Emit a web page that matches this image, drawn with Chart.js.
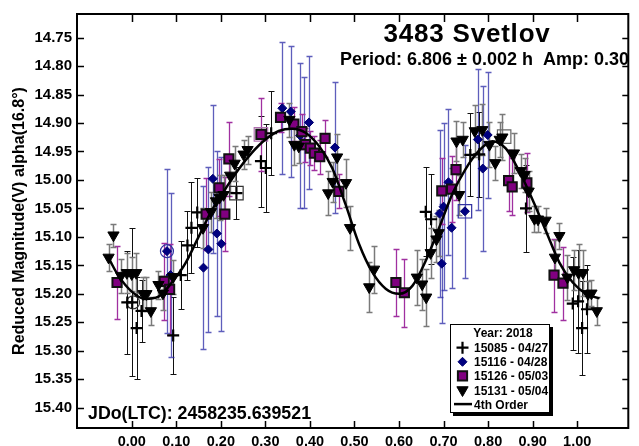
<!DOCTYPE html>
<html><head><meta charset="utf-8">
<style>html,body{margin:0;padding:0;background:#fff}#wrap{width:639px;height:446px;position:relative}</style>
<script src="https://cdn.jsdelivr.net/npm/chart.js@4.4.0/dist/chart.umd.min.js"></script>
</head><body><div id="wrap"><canvas id="c" width="639" height="446"></canvas></div>
<script>
// ---- texts ----
const titleText = '3483 Svetlov';
const periodText = 'Period: 6.806 \u00b1 0.002 h  Amp: 0.30';
const jdText = 'JDo(LTC): 2458235.639521';
const yTitle = 'Reduced Magnitude(V) alpha(16.8\u00b0)';
const yearLabel = 'Year: 2018';
const seriesNames = ['15085 - 04/27', '15116 - 04/28', '15126 - 05/03', '15131 - 05/04'];
const fitName = '4th Order';

// ---- ticks ----
const xTicks = [0.00, 0.10, 0.20, 0.30, 0.40, 0.50, 0.60, 0.70, 0.80, 0.90, 1.00];
const yTicks = [14.75, 14.80, 14.85, 14.90, 14.95, 15.00, 15.05, 15.10, 15.15, 15.20, 15.25, 15.30, 15.35, 15.40];

// ---- 15085 (crosses) ----
const s15085X = [-0.010, 0.001, 0.011, 0.022, 0.093, 0.110, 0.125, 0.134, 0.147, 0.235, 0.290, 0.301, 0.313, 0.660, 0.672, 0.760, 0.780, 0.885, 0.990, 1.002, 1.011, 1.022];
const s15085Y = [15.215, 15.215, 15.260, 15.230, 15.273, 15.167, 15.115, 15.084, 15.057, 15.023, 14.967, 14.979, 14.918, 15.056, 15.069, 14.956, 14.955, 15.050, 15.217, 15.213, 15.260, 15.227];
const s15085E = [0.090, 0.130, 0.090, 0.055, 0.068, 0.060, 0.060, 0.080, 0.060, 0.045, 0.080, 0.077, 0.074, 0.078, 0.079, 0.073, 0.075, 0.077, 0.082, 0.090, 0.082, 0.077];

// ---- 15116 (diamonds) ----
const s15116X = [0.079, 0.087, 0.161, 0.172, 0.182, 0.191, 0.201, 0.338, 0.357, 0.378, 0.387, 0.398, 0.456, 0.691, 0.696, 0.700, 0.711, 0.718, 0.748, 0.777, 0.788, 0.799];
const s15116Y = [15.125, 15.167, 15.154, 15.122, 14.998, 15.094, 15.112, 14.874, 14.880, 14.922, 14.935, 14.899, 14.943, 15.059, 15.147, 15.047, 15.004, 15.084, 15.055, 14.929, 14.980, 14.921];
const s15116E = [0.144, 0.144, 0.143, 0.145, 0.130, 0.145, 0.153, 0.116, 0.115, 0.128, 0.115, 0.117, 0.115, 0.146, 0.105, 0.147, 0.128, 0.105, 0.117, 0.124, 0.145, 0.110];

// ---- 15126 (squares) ----
const s15126X = [-0.033, 0.073, 0.085, 0.167, 0.196, 0.209, 0.218, 0.290, 0.334, 0.364, 0.382, 0.390, 0.401, 0.410, 0.422, 0.434, 0.465, 0.593, 0.612, 0.696, 0.718, 0.728, 0.846, 0.854, 0.887, 0.948, 0.968];
const s15126Y = [15.180, 15.178, 15.192, 15.060, 15.014, 15.060, 14.963, 14.920, 14.890, 14.902, 14.915, 14.938, 14.944, 14.953, 14.959, 14.927, 15.020, 15.180, 15.198, 15.019, 15.016, 14.982, 15.001, 15.012, 15.005, 15.167, 15.181];
const s15126E = [0.064, 0.068, 0.080, 0.063, 0.050, 0.065, 0.065, 0.064, 0.026, 0.030, 0.030, 0.030, 0.030, 0.030, 0.030, 0.032, 0.030, 0.058, 0.060, 0.058, 0.058, 0.054, 0.054, 0.050, 0.052, 0.064, 0.064];

// ---- 15131 (down triangles) ----
const s15131X = [-0.052, -0.041, -0.024, -0.011, 0.000, 0.010, 0.026, 0.033, 0.043, 0.060, 0.070, 0.093, 0.160, 0.178, 0.189, 0.197, 0.206, 0.221, 0.231, 0.251, 0.260, 0.354, 0.365, 0.375, 0.441, 0.451, 0.461, 0.481, 0.490, 0.533, 0.544, 0.640, 0.652, 0.661, 0.671, 0.684, 0.689, 0.729, 0.735, 0.743, 0.770, 0.787, 0.803, 0.816, 0.826, 0.832, 0.858, 0.873, 0.882, 0.891, 0.904, 0.912, 0.929, 0.950, 0.960, 0.978, 0.993, 1.003, 1.013, 1.024, 1.032, 1.044];
const s15131Y = [15.136, 15.097, 15.168, 15.163, 15.165, 15.163, 15.200, 15.200, 15.230, 15.184, 15.199, 15.170, 15.084, 15.056, 15.037, 15.031, 15.026, 14.992, 14.971, 14.955, 14.947, 14.894, 14.938, 14.941, 15.023, 15.003, 14.960, 15.005, 15.084, 15.188, 15.157, 15.171, 15.183, 15.206, 15.128, 15.104, 15.093, 14.932, 15.026, 14.929, 14.914, 14.912, 14.938, 14.970, 14.929, 14.925, 14.953, 14.984, 14.991, 15.020, 15.068, 15.069, 15.071, 15.136, 15.098, 15.171, 15.158, 15.163, 15.163, 15.200, 15.199, 15.230];
const s15131E = [0.023, 0.020, 0.030, 0.035, 0.030, 0.035, 0.030, 0.030, 0.025, 0.025, 0.030, 0.030, 0.035, 0.035, 0.030, 0.040, 0.035, 0.030, 0.030, 0.025, 0.025, 0.030, 0.035, 0.030, 0.038, 0.035, 0.040, 0.042, 0.039, 0.044, 0.041, 0.048, 0.045, 0.050, 0.044, 0.040, 0.040, 0.035, 0.035, 0.030, 0.045, 0.045, 0.040, 0.030, 0.030, 0.040, 0.035, 0.030, 0.030, 0.035, 0.023, 0.023, 0.022, 0.030, 0.023, 0.040, 0.035, 0.050, 0.040, 0.023, 0.023, 0.025];

// ---- 4th order fit ----
const fitX = [-0.05, -0.03, 0.00, 0.03, 0.06, 0.09, 0.12, 0.15, 0.18, 0.21, 0.24, 0.27, 0.30, 0.33, 0.36, 0.39, 0.42, 0.45, 0.48, 0.51, 0.54, 0.57, 0.60, 0.63, 0.66, 0.69, 0.72, 0.75, 0.78, 0.81, 0.84, 0.87, 0.90, 0.93, 0.96, 0.99, 1.02, 1.05];
const fitY = [15.140, 15.168, 15.196, 15.209, 15.205, 15.180, 15.147, 15.100, 15.053, 15.016, 14.981, 14.952, 14.929, 14.914, 14.910, 14.917, 14.940, 14.979, 15.043, 15.112, 15.162, 15.191, 15.200, 15.186, 15.142, 15.084, 15.024, 14.980, 14.948, 14.932, 14.945, 14.985, 15.035, 15.090, 15.145, 15.180, 15.200, 15.208];

// ---- highlighted points (open circles / open squares) ----
const ringX = [0.079, 0.003];
const ringY = [15.125, 15.215];
const boxX = [0.235, 0.290, 0.748, 0.836];
const boxY = [15.023, 14.920, 15.055, 14.924];

const pts = (xs, ys) => xs.map((x, i) => ({x: x, y: ys[i]}));
const FONT = "'Liberation Sans', Arial, sans-serif";

const errPlugin = {
  id: 'errbars',
  beforeDatasetsDraw(chart) {
    const ctx = chart.ctx, ys = chart.scales.y, a = chart.chartArea;
    ctx.save();
    ctx.beginPath(); ctx.rect(a.left, a.top, a.right - a.left, a.bottom - a.top); ctx.clip();
    chart.data.datasets.forEach((ds, di) => {
      if (!ds.errY) return;
      const meta = chart.getDatasetMeta(di);
      ctx.strokeStyle = ds.errColor; ctx.lineWidth = ds.errWidth;
      meta.data.forEach((pt, i) => {
        const v = ds.data[i].y, e = ds.errY[i];
        const y1 = Math.round(ys.getPixelForValue(v - e)) + 0.5, y2 = Math.round(ys.getPixelForValue(v + e)) + 0.5;
        const x = Math.round(pt.x) + 0.5;
        ctx.beginPath();
        ctx.moveTo(x, y1); ctx.lineTo(x, y2);
        ctx.moveTo(x - 3, y1); ctx.lineTo(x + 3, y1);
        ctx.moveTo(x - 3, y2); ctx.lineTo(x + 3, y2);
        ctx.stroke();
      });
    });
    ctx.restore();
  }
};

function drawMarker(ctx, ds, x, y) {
  const opts = {pointStyle: ds.pointStyle, radius: ds.pointRadius, rotation: ds.rotation || 0, borderWidth: ds.borderWidth};
  ctx.save();
  ctx.fillStyle = ds.backgroundColor; ctx.strokeStyle = ds.borderColor; ctx.lineWidth = ds.borderWidth;
  Chart.helpers.drawPoint(ctx, opts, x, y);
  ctx.restore();
}

const decoPlugin = {
  id: 'deco',
  afterDraw(chart) {
    const ctx = chart.ctx, a = chart.chartArea, xs = chart.scales.x, ys = chart.scales.y;
    ctx.save();
    // frame
    ctx.strokeStyle = '#000'; ctx.lineWidth = 2;
    ctx.strokeRect(a.left, a.top, a.right - a.left, a.bottom - a.top);
    ctx.lineWidth = 1.5;
    ctx.beginPath();
    xTicks.forEach(v => {
      const px = Math.round(xs.getPixelForValue(v)) + 0.5;
      ctx.moveTo(px, a.top); ctx.lineTo(px, a.top + 8);
      ctx.moveTo(px, a.bottom); ctx.lineTo(px, a.bottom - 7);
    });
    yTicks.forEach(v => {
      const py = Math.round(ys.getPixelForValue(v)) + 0.5;
      ctx.moveTo(a.left, py); ctx.lineTo(a.left + 7, py);
      ctx.moveTo(a.right, py); ctx.lineTo(a.right - 6, py);
    });
    ctx.stroke();

    // titles
    ctx.fillStyle = '#000';
    ctx.textBaseline = 'alphabetic';
    ctx.textAlign = 'center';
    ctx.font = 'bold 26px ' + FONT;
    ctx.letterSpacing = '0.8px';
    ctx.fillText(titleText, 467, 42);
    ctx.letterSpacing = '0px';
    ctx.textAlign = 'left';
    ctx.font = 'bold 18px ' + FONT;
    ctx.fillText(periodText, 340, 65);
    ctx.font = 'bold 17.8px ' + FONT;
    ctx.fillText(jdText, 88, 419);

    // legend
    const L = 450, T = 324, R = 550, B = 413;
    ctx.fillStyle = '#000';
    ctx.fillRect(L + 3, T + 3, R - L, B - T);
    ctx.fillStyle = '#fff';
    ctx.fillRect(L, T, R - L, B - T);
    ctx.strokeStyle = '#000'; ctx.lineWidth = 1;
    ctx.strokeRect(L + 0.5, T + 0.5, R - L - 1, B - T - 1);
    ctx.fillStyle = '#000';
    ctx.font = 'bold 12px ' + FONT;
    ctx.textAlign = 'center';
    ctx.fillText(yearLabel, 503, 336.5);
    ctx.textAlign = 'left';
    const dsets = chart.data.datasets;
    const order = [1, 2, 3, 4];
    order.forEach((di, k) => {
      const ds = dsets[di];
      const cy = 347.7 + k * 14.1;
      drawMarker(ctx, ds, 462.5, cy);
      ctx.fillStyle = '#000';
      ctx.fillText(ds.label, 474, cy + 4.5);
    });
    const fy = 347.7 + 4 * 14.1;
    ctx.strokeStyle = '#000'; ctx.lineWidth = 2.5;
    ctx.beginPath(); ctx.moveTo(454, fy); ctx.lineTo(472, fy); ctx.stroke();
    ctx.fillText(dsets[0].label, 474, fy + 4.5);
    ctx.restore();
  }
};

const cfg = {
  type: 'scatter',
  data: {
    datasets: [
      {type: 'line', label: fitName, data: pts(fitX, fitY), showLine: true, borderColor: '#000', borderWidth: 2.5,
       pointRadius: 0, cubicInterpolationMode: 'monotone', fill: false, order: 0},
      {label: seriesNames[0], data: pts(s15085X, s15085Y), errY: s15085E, errColor: '#111', errWidth: 1,
       pointStyle: 'cross', pointRadius: 6, borderWidth: 2.2, borderColor: '#000', backgroundColor: '#000', order: 4},
      {label: seriesNames[1], data: pts(s15116X, s15116Y), errY: s15116E, errColor: 'rgba(40,40,165,0.75)', errWidth: 1.3,
       pointStyle: 'rectRot', pointRadius: 4.5, borderWidth: 1, borderColor: '#000070', backgroundColor: '#000080', order: 3},
      {label: seriesNames[2], data: pts(s15126X, s15126Y), errY: s15126E, errColor: '#a030a0', errWidth: 1.3,
       pointStyle: 'rect', pointRadius: 6.5, borderWidth: 2, borderColor: '#111', backgroundColor: '#800080', order: 2},
      {label: seriesNames[3], data: pts(s15131X, s15131Y), errY: s15131E, errColor: '#7a7a7a', errWidth: 1.5,
       pointStyle: 'triangle', rotation: 180, pointRadius: 6.5, borderWidth: 1, borderColor: '#000', backgroundColor: '#000', order: 1},
      {label: 'ring', data: pts(ringX, ringY), pointStyle: 'circle', pointRadius: 6.5, borderWidth: 1.2,
       borderColor: ['#3030a0', '#333'], backgroundColor: 'rgba(0,0,0,0)', order: 5},
      {label: 'box', data: pts(boxX, boxY), pointStyle: 'rect', pointRadius: 9.5, borderWidth: 1.2,
       borderColor: ['#333', '#b070b0', '#3030a0', '#666'], backgroundColor: 'rgba(0,0,0,0)', order: 5}
    ]
  },
  options: {
    responsive: false, animation: false, devicePixelRatio: 1,
    layout: {padding: {left: 0, top: 12, right: 1, bottom: 0}},
    plugins: {legend: {display: false}, tooltip: {enabled: false}},
    scales: {
      x: {
        type: 'linear', min: -0.1229, max: 1.1147,
        grid: {display: false, drawTicks: false, tickLength: 0}, border: {display: false},
        afterBuildTicks: s => { s.ticks = xTicks.map(v => ({value: v})); },
        afterFit: s => { s.height = 18; },
        ticks: {color: '#000', padding: 5, font: {family: FONT, size: 14.5, weight: 'bold'},
                callback: v => Number(v).toFixed(2), maxRotation: 0, autoSkip: false}
      },
      y: {
        type: 'linear', reverse: true, min: 14.7086, max: 15.4355,
        grid: {display: false, drawTicks: false, tickLength: 0}, border: {display: false},
        afterBuildTicks: s => { s.ticks = yTicks.map(v => ({value: v})); },
        afterFit: s => { s.width = 77; },
        ticks: {color: '#000', padding: 5, font: {family: FONT, size: 15, weight: 'bold'},
                callback: v => Number(v).toFixed(2), autoSkip: false},
        title: {display: true, text: yTitle, color: '#000', padding: {top: 10, bottom: 0},
                font: {family: FONT, size: 16, weight: 'bold'}}
      }
    }
  },
  plugins: [errPlugin, decoPlugin]
};
new Chart(document.getElementById('c'), cfg);
</script>
</body></html>
